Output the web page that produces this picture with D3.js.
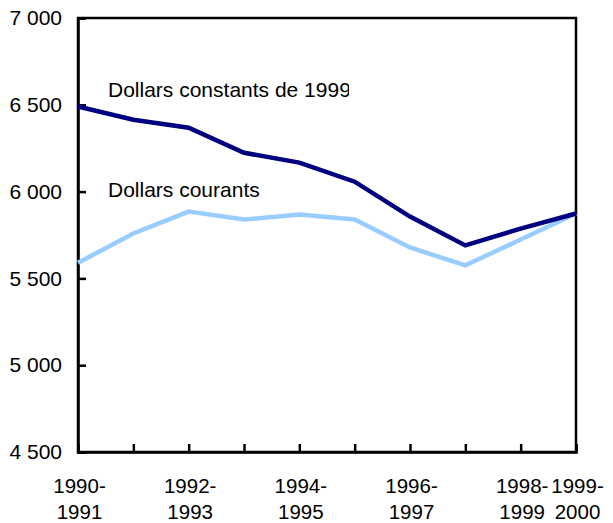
<!DOCTYPE html>
<html>
<head>
<meta charset="utf-8">
<script src="https://cdn.jsdelivr.net/npm/d3@7"></script>
<style>
  body { margin: 0; background: #fff; }
  text { font-family: "Liberation Sans", Arial, sans-serif; }
</style>
</head>
<body>
<div id="chart"></div>
<script>
/* Line chart: dollars constants vs courants, 1990-1991 to 1999-2000 */

const years = ["1990-1991", "1991-1992", "1992-1993", "1993-1994", "1994-1995",
               "1995-1996", "1996-1997", "1997-1998", "1998-1999", "1999-2000"];

const constants = [6490, 6414, 6368, 6224, 6167, 6057, 5856, 5690, 5787, 5874];
const courants  = [5590, 5759, 5885, 5839, 5868, 5839, 5678, 5575, 5724, 5874];

// only some categories get a label
const labelled = ["1990-1991", "1992-1993", "1994-1995", "1996-1997", "1998-1999", "1999-2000"];
const yTicks = [4500, 5000, 5500, 6000, 6500, 7000];

const width = 613,
      height = 523,
      margin = ({ top: 18, right: 37, bottom: 71, left: 78 });

let svg = d3.select("#chart")
    .append("svg")
    .attr("width", width)
    .attr("height", height);

let x = d3.scalePoint()
    .domain(years)
    .range([margin.left, width - margin.right]);

let y = d3.scaleLinear()
    .domain([4500, 7000])
    .range([height - margin.bottom, margin.top]);

const fmt = d => d3.format(",")(d).replace(",", " ");

// y axis, ticks inside
let yAxis = svg.append("g")
    .attr("transform", `translate(${margin.left},0)`)
    .call(d3.axisLeft(y).tickValues(yTicks).tickSize(-8).tickPadding(16).tickFormat(fmt));
yAxis.selectAll("text").style("font-size", "21px").attr("fill", "#000");

// x axis, ticks inside
let xAxis = svg.append("g")
    .attr("transform", `translate(0,${height - margin.bottom})`)
    .call(d3.axisBottom(x).tickSize(-8).tickFormat(""));

xAxis.selectAll(".tick")
    .filter(d => labelled.includes(d))
    .append("text")
    .attr("fill", "#000")
    .attr("text-anchor", "middle")
    .style("font-size", "20.5px")
    .selectAll("tspan")
    .data(d => { let p = d.split("-"); return [p[0] + "-", p[1]]; })
    .join("tspan")
    .attr("x", 1)
    .attr("y", (d, i) => 41 + i * 26)
    .text(d => d);

svg.selectAll(".domain, .tick line")
    .attr("stroke", "#000")
    .attr("stroke-width", 2.5);

// box
svg.append("rect")
    .attr("x", margin.left)
    .attr("y", margin.top)
    .attr("width", width - margin.left - margin.right)
    .attr("height", height - margin.top - margin.bottom)
    .attr("fill", "none")
    .attr("stroke", "#000")
    .attr("stroke-width", 2.5);

let line = d3.line()
    .x((d, i) => x(years[i]))
    .y(d => y(d));

svg.append("path")
    .datum(courants)
    .attr("fill", "none")
    .attr("stroke", "#99ccff")
    .attr("stroke-width", 4.5)
    .attr("d", line);

svg.append("path")
    .datum(constants)
    .attr("fill", "none")
    .attr("stroke", "#000080")
    .attr("stroke-width", 4.5)
    .attr("d", line);

// series labels; the first one is clipped like in the original
svg.append("clipPath")
    .attr("id", "clip")
    .append("rect")
    .attr("x", 0).attr("y", 0)
    .attr("width", 349).attr("height", height);

svg.append("text")
    .attr("x", 108)
    .attr("y", 97)
    .attr("clip-path", "url(#clip)")
    .style("font-size", "21px")
    .text("Dollars constants de 1999");

svg.append("text")
    .attr("x", 108)
    .attr("y", 197)
    .style("font-size", "21px")
    .text("Dollars courants");
</script>
</body>
</html>
